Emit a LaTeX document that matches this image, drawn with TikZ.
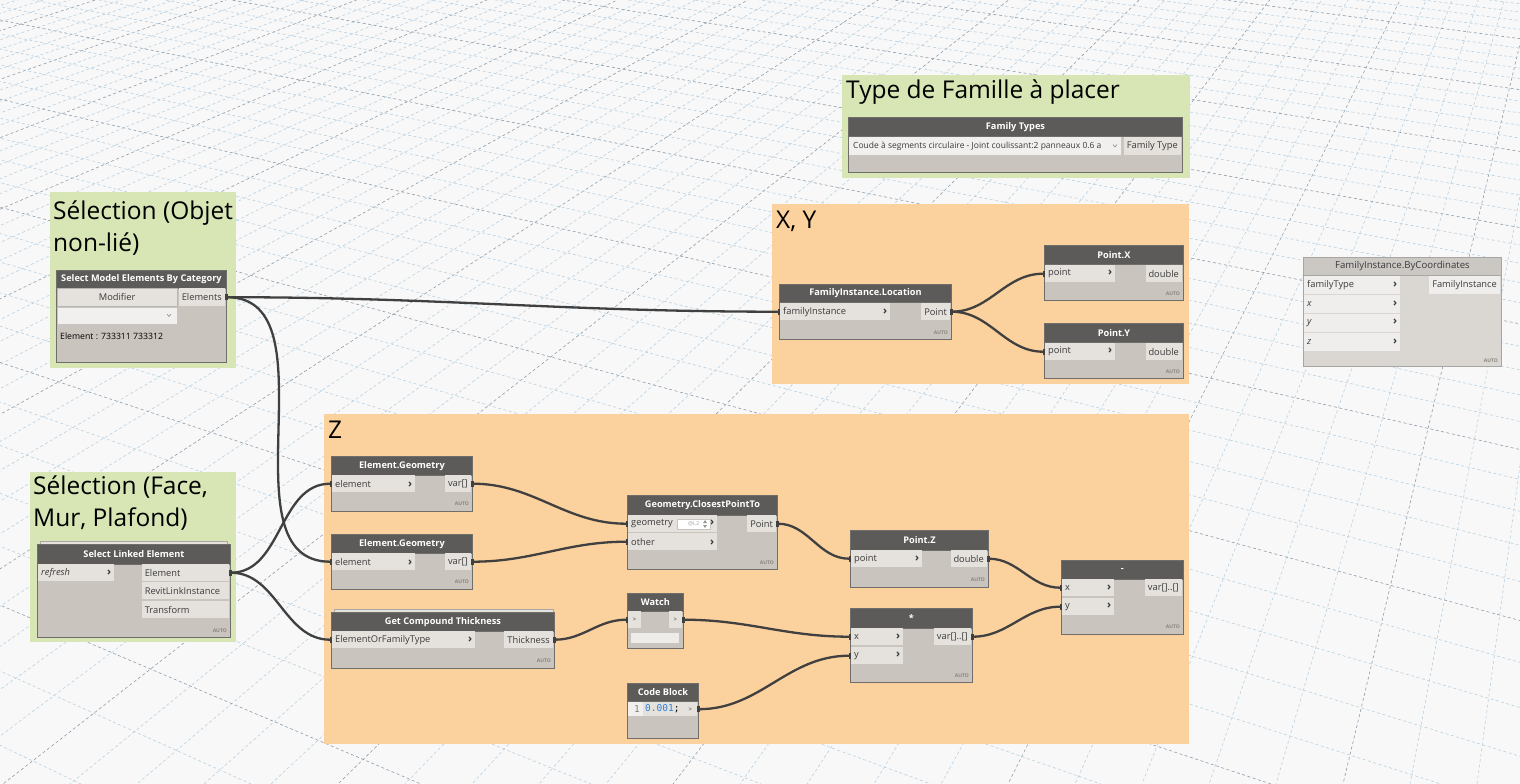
\documentclass[tikz,border=0pt]{standalone}
\usepackage{fontspec}
\setmainfont{Open Sans}
\newfontfamily\codefont{DejaVu Sans Mono}
\usepackage{tikz}
\usetikzlibrary{arrows.meta,positioning}
\definecolor{bgC}{HTML}{F8F8F8}
\definecolor{gridLight}{HTML}{B9D1E2}
\definecolor{gridDark}{HTML}{8E9DAB}
\definecolor{grpGreen}{HTML}{D8E6B5}
\definecolor{grpOrange}{HTML}{FBD29D}
\definecolor{headC}{HTML}{5C5B59}
\definecolor{bodyC}{HTML}{C9C4BE}
\definecolor{portC}{HTML}{E5E2DE}
\definecolor{dropC}{HTML}{F1F0EE}
\definecolor{edgeC}{HTML}{706E6B}
\definecolor{txtC}{HTML}{3A3A3A}
\definecolor{autoC}{HTML}{8A857F}
\definecolor{wireC}{HTML}{404040}
\definecolor{codeC}{HTML}{2F7FD8}
\definecolor{fadeHead}{HTML}{CBC8C4}
\definecolor{fadeBody}{HTML}{DAD7D3}
\definecolor{fadePort}{HTML}{EFEEEC}
\definecolor{fadeEdge}{HTML}{A8A6A3}
\newcommand{\chev}{{\fontsize{11}{10}\selectfont\bfseries ›}}

\begin{document}
\begin{tikzpicture}[x=1pt, y=-1pt, font=\fontsize{9.3}{10}\selectfont,
  grptitle/.style={anchor=base west, inner sep=0pt, align=left, font=\fontsize{24.5}{32}\selectfont},
  nbody/.style={fill=bodyC, draw=edgeC, line width=0.9pt},
  nhead/.style={anchor=north west, fill=headC, draw=edgeC, line width=0.9pt, text=white, inner sep=0pt, font=\bfseries\fontsize{9.2}{10}\selectfont},
  inport/.style={anchor=north west, fill=portC, text=txtC, inner sep=0pt, inner xsep=3pt, minimum height=17pt, align=left, text width=#1},
  outport/.style={anchor=north east, fill=portC, text=txtC, inner sep=0pt, inner xsep=3pt, minimum height=17pt},
  autotag/.style={anchor=base east, inner sep=0pt, text=autoC, font=\bfseries\fontsize{5}{6}\selectfont},
  wire/.style={draw=wireC, line width=2.3pt, {Rectangle[length=2.5pt,width=6pt]}-{Rectangle[length=2.5pt,width=6pt]}},
  gridline/.style={line width=0.6pt, dash pattern=on 3pt off 2.5pt}]
\useasboundingbox (0,0) rectangle (1520,784);
\fill[bgC] (0,0) rectangle (1520,784);

% background grid
\begin{scope}
  \clip (0,0) rectangle (1520,784);
  \foreach \i in {-39,...,22} {
    \pgfmathtruncatemacro\m{mod(\i+40,5)}
    \ifnum\m=0 \def\gc{gridDark}\else\def\gc{gridLight}\fi
    \draw[gridline, draw=\gc] (1650,-500) -- (3+67*\i,784);
  }
  \foreach \k in {-7,...,40} {
    \pgfmathtruncatemacro\m{mod(\k+10,5)}
    \ifnum\m=0 \def\gc{gridDark}\else\def\gc{gridLight}\fi
    \draw[gridline, draw=\gc] (-2600,-500) -- (1271+170*\k,784);
  }
\end{scope}

% groups
\fill[grpGreen] (50,192) rectangle (236,368);
\node[grptitle] (t-sel) at (53,251) {Sélection (Objet\\non-lié)};
\fill[grpGreen] (842,75) rectangle (1190,178);
\node[grptitle] (t-fam) at (846,99) {Type de Famille à placer};
\fill[grpOrange] (772,204) rectangle (1189,384);
\node[grptitle] (t-xy) at (776,228) {X, Y};
\fill[grpOrange] (324,414) rectangle (1189,744);
\node[grptitle] (t-z) at (328,438) {Z};
\fill[grpGreen] (30,472) rectangle (236,642);
\node[grptitle] (t-face) at (33,526) {Sélection (Face,\\Mur, Plafond)};

% Select Model Elements By Category
\draw[nbody] (56,270) rectangle (226,362);
\node[nhead, minimum width=170pt, minimum height=18pt] (sel) at (56,270) {Select Model Elements By Category};
\node[anchor=north west, fill=portC, draw=edgeC!50, inner sep=0pt, minimum width=120pt, minimum height=18pt, text=txtC] (selBtn) at (57,288) {Modifier};
\node[outport, minimum height=18pt] (selOut) at (225,288) {Elements};
\node[anchor=north west, fill=dropC, draw=edgeC!40, inner sep=0pt, minimum width=120pt, minimum height=17pt] (selDrop) at (57,307) {};
\draw[gray, line width=0.5pt] (167,314) -- (169,316.5) -- (171,314);
\node[anchor=base west, inner sep=0pt, font=\fontsize{8.7}{10}\selectfont] (selInfo) at (60,339) {Element : 733311 733312};

% Family Types
\draw[nbody] (848,117) rectangle (1182,172);
\node[nhead, minimum width=334pt, minimum height=19pt] (fam) at (848,117) {Family Types};
\fill[dropC] (849,137) rectangle (1121,155);
\node[anchor=west, inner sep=0pt, font=\fontsize{8.5}{10}\selectfont, text=txtC] (famSel) at (853,146) {Coude à segments circulaire - Joint coulissant:2 panneaux 0.6 a};
\draw[gray, line width=0.5pt] (1113,144.5) -- (1115,147) -- (1117,144.5);
\node[outport, minimum height=18pt] (famOut) at (1181,137) {Family Type};

% FamilyInstance.Location
\draw[nbody] (779,284) rectangle (951,339);
\node[nhead, minimum width=172pt, minimum height=18pt] (loc) at (779,284) {FamilyInstance.Location};
\node[inport=104pt] (locIn) at (780,303) {familyInstance\hfill\chev};
\node[outport] (locOut) at (950,303) {Point};
\node[autotag] at (948,334) {AUTO};

% Point.X
\draw[nbody] (1044,245) rectangle (1183,300);
\node[nhead, minimum width=139pt, minimum height=19pt] (ptx) at (1044,245) {Point.X};
\node[inport=64pt] (ptxIn) at (1045,265) {point\hfill\chev};
\node[outport] (ptxOut) at (1182,265) {double};
\node[autotag] at (1180,295) {AUTO};

% Point.Y
\draw[nbody] (1044,323) rectangle (1183,378);
\node[nhead, minimum width=139pt, minimum height=19pt] (pty) at (1044,323) {Point.Y};
\node[inport=64pt] (ptyIn) at (1045,343) {point\hfill\chev};
\node[outport] (ptyOut) at (1182,343) {double};
\node[autotag] at (1180,373) {AUTO};

% FamilyInstance.ByCoordinates
\draw[fill=fadeBody, draw=fadeEdge, line width=0.9pt] (1303,257) rectangle (1501,366);
\node[nhead, fill=fadeHead, draw=fadeEdge, text=txtC, font=\fontsize{9.6}{10}\selectfont, minimum width=198pt, minimum height=18pt] (byc) at (1303,257) {FamilyInstance.ByCoordinates};
\node[inport=90pt, fill=fadePort, minimum height=18pt] (bycT) at (1304,276) {familyType\hfill\chev};
\node[inport=90pt, fill=fadePort, minimum height=18pt] (bycX) at (1304,295) {\textit{x}\hfill\chev};
\node[inport=90pt, fill=fadePort, minimum height=18pt] (bycY) at (1304,314) {\textit{y}\hfill\chev};
\node[inport=90pt, fill=fadePort, minimum height=18pt] (bycZ) at (1304,333) {\textit{z}\hfill\chev};
\node[outport, fill=fadePort, minimum height=18pt] (bycOut) at (1500,276) {FamilyInstance};
\node[autotag] at (1498,362) {AUTO};

% Element.Geometry (1)
\draw[nbody] (331,456) rectangle (472,511);
\node[nhead, minimum width=141pt, minimum height=19pt] (geo1) at (331,456) {Element.Geometry};
\node[inport=77pt] (geo1In) at (332,475) {element\hfill\chev};
\node[outport] (geo1Out) at (471,475) {var[]};
\node[autotag] at (469,505) {AUTO};

% Element.Geometry (2)
\draw[nbody] (331,534) rectangle (472,589);
\node[nhead, minimum width=141pt, minimum height=19pt] (geo2) at (331,534) {Element.Geometry};
\node[inport=77pt] (geo2In) at (332,553) {element\hfill\chev};
\node[outport] (geo2Out) at (471,553) {var[]};
\node[autotag] at (469,583) {AUTO};

% Get Compound Thickness
\draw[fill=portC, draw=edgeC!60] (334,609) rectangle (553,613);
\draw[nbody] (331,612) rectangle (554,668);
\node[nhead, minimum width=223pt, minimum height=19pt] (gct) at (331,612) {Get Compound Thickness};
\node[inport=137pt] (gctIn) at (332,631) {ElementOrFamilyType\hfill\chev};
\node[outport] (gctOut) at (553,631) {Thickness};
\node[autotag] at (551,662) {AUTO};

% Geometry.ClosestPointTo
\draw[nbody] (627,495) rectangle (777,569);
\node[nhead, minimum width=150pt, minimum height=20pt] (cpt) at (627,495) {Geometry.ClosestPointTo};
\node[inport=83pt] (cptGeo) at (628,515) {geometry\hfill\chev};
\node[inport=83pt] (cptOther) at (628,533) {other\hfill\chev};
\node[anchor=west, fill=white, draw=edgeC!40, inner sep=0pt, minimum width=33pt, minimum height=10pt, text=gray!70, font=\fontsize{5.5}{6}\selectfont] (cptLace) at (677,524) {@L2\hspace{12pt}};
\fill[gray!80] (703,523) -- (705,520) -- (707,523) -- cycle;
\fill[gray!80] (703,525) -- (705,528) -- (707,525) -- cycle;
\node[outport] (cptOut) at (776,515) {Point};
\node[autotag] at (774,564) {AUTO};

% Watch
\draw[nbody] (627,593) rectangle (683,648);
\node[nhead, minimum width=56pt, minimum height=18pt] (wat) at (627,593) {Watch};
\node[anchor=north west, fill=portC, text=txtC, inner sep=0pt, minimum width=13pt, minimum height=17pt, font=\fontsize{6}{7}\selectfont] (watIn) at (628,611) {>};
\node[anchor=north east, fill=portC, text=txtC, inner sep=0pt, minimum width=13pt, minimum height=17pt, font=\fontsize{6}{7}\selectfont] (watOut) at (682,611) {>};
\fill[dropC!70!portC] (631,633) rectangle (679,643);

% Code Block
\draw[nbody] (627,683) rectangle (698,738);
\node[nhead, minimum width=71pt, minimum height=18pt] (cb) at (627,683) {Code Block};
\fill[portC] (628,702) rectangle (684,716);
\fill[dropC] (628,702) rectangle (643,716);
\node[inner sep=0pt, text=gray, font=\codefont\fontsize{9.5}{10}\selectfont] (cbLine) at (637,709) {1};
\node[anchor=west, inner sep=0pt, font=\codefont\fontsize{9.5}{10}\selectfont] (cbCode) at (645,709) {\textcolor{codeC}{0.001};};
\node[anchor=north east, fill=portC, text=txtC, inner sep=0pt, minimum width=13pt, minimum height=14pt, font=\fontsize{6}{7}\selectfont] (cbOut) at (697,702) {>};

% Point.Z
\draw[nbody] (850,530) rectangle (988,587);
\node[nhead, minimum width=138pt, minimum height=20pt] (ptz) at (850,530) {Point.Z};
\node[inport=65pt] (ptzIn) at (851,550) {point\hfill\chev};
\node[outport] (ptzOut) at (987,550) {double};
\node[autotag] at (985,581) {AUTO};

% *
\draw[nbody] (850,608) rectangle (972,682);
\node[nhead, minimum width=122pt, minimum height=20pt] (mul) at (850,608) {*};
\node[inport=46pt] (mulX) at (851,628) {x\hfill\chev};
\node[inport=46pt] (mulY) at (851,647) {y\hfill\chev};
\node[outport] (mulOut) at (971,628) {var[]..[]};
\node[autotag] at (969,677) {AUTO};

% -
\draw[nbody] (1061,560) rectangle (1183,634);
\node[nhead, minimum width=122pt, minimum height=19pt] (sub) at (1061,560) {-};
\node[inport=46pt] (subX) at (1062,579) {x\hfill\chev};
\node[inport=46pt] (subY) at (1062,598) {y\hfill\chev};
\node[outport] (subOut) at (1182,579) {var[]..[]};
\node[autotag] at (1180,628) {AUTO};

% Select Linked Element
\draw[fill=portC, draw=edgeC!60] (40,541) rectangle (227,545);
\draw[nbody] (37,544) rectangle (230,637);
\node[nhead, minimum width=193pt, minimum height=20pt] (sle) at (37,544) {Select Linked Element};
\node[inport=70pt] (sleIn) at (38,564) {\textit{refresh}\hfill\chev};
\node[outport, text width=81pt, align=left] (sleEl) at (229,564) {Element};
\node[outport, text width=81pt, align=left] (sleLink) at (229,582) {RevitLinkInstance};
\node[outport, text width=81pt, align=left] (sleTr) at (229,601) {Transform};
\node[autotag] at (227,632) {AUTO};

% wires
\draw[wire] (selOut.east) to[out=0,in=180] (locIn.west);
\draw[wire] (selOut.east) to[out=0,in=180] (geo2In.west);
\draw[wire] (sleEl.east) to[out=0,in=180] (geo1In.west);
\draw[wire] (sleEl.east) to[out=0,in=180] (gctIn.west);
\draw[wire] (locOut.east) to[out=0,in=180] (ptxIn.west);
\draw[wire] (locOut.east) to[out=0,in=180] (ptyIn.west);
\draw[wire] (geo1Out.east) to[out=0,in=180] (cptGeo.west);
\draw[wire] (geo2Out.east) to[out=0,in=180] (cptOther.west);
\draw[wire] (gctOut.east) to[out=0,in=180] (watIn.west);
\draw[wire] (watOut.east) to[out=0,in=180] (mulX.west);
\draw[wire] (cbOut.east) to[out=0,in=180] (mulY.west);
\draw[wire] (cptOut.east) to[out=0,in=180] (ptzIn.west);
\draw[wire] (ptzOut.east) to[out=0,in=180] (subX.west);
\draw[wire] (mulOut.east) to[out=0,in=180] (subY.west);
\end{tikzpicture}
\end{document}
